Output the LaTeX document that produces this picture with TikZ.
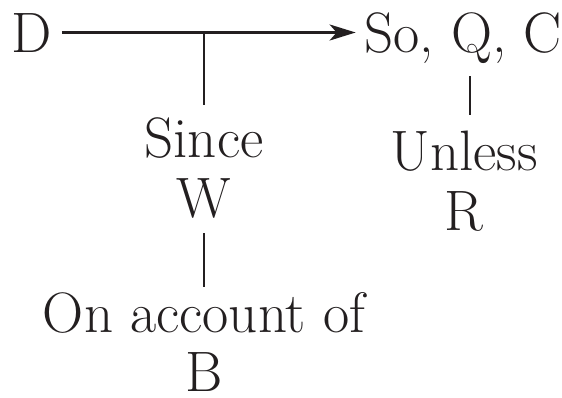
\documentclass[tikz,border=0pt]{standalone}
\usepackage{fontspec}
\usetikzlibrary{arrows.meta}
\definecolor{ink}{HTML}{231F20}
\tikzset{
    lbl/.style={font=\fontsize{57}{64}\selectfont, text=ink, inner sep=0pt,
        text height=39pt, text depth=0pt, anchor=base},
    link/.style={draw=ink, line width=2.8pt}
}
\begin{document}
\begin{tikzpicture}[x=1pt,y=-1pt]
        \useasboundingbox (0,0) rectangle (562,397);
        \node[lbl] (data) at (31.5,52) {D};
        \node[lbl] (claim) at (463,52) {So, Q, C};
        \node[lbl] (since) at (204,157) {Since};
        \node[lbl] (warrant) at (204,217) {W};
        \node[lbl] (account) at (204,332) {On account of};
        \node[lbl] (backing) at (204,391) {B};
        \node[lbl] (unless) at (464,170) {Unless};
        \node[lbl] (rebuttal) at (464,230) {R};
        \coordinate (tee) at (since.north |- data.east);
        \draw[link, -{Stealth[length=26pt,width=16pt,inset=7pt]}, shorten <=10pt, shorten >=8.5pt] (data) -- (claim);
        \draw[link, shorten >=13pt] (tee) -- (since);
        \draw[link, shorten <=16pt, shorten >=6pt] (warrant) -- (account);
        \draw[link, shorten <=24pt, shorten >=16pt] ([xshift=7pt]claim.south) -- ([xshift=6pt]unless.north);
    \end{tikzpicture}
\end{document}
